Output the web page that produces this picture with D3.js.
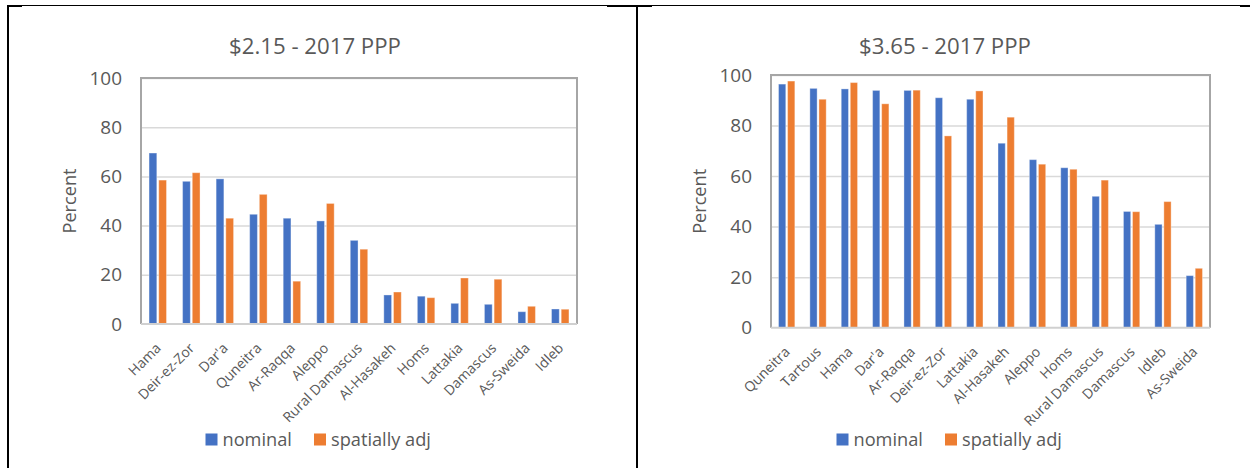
<!DOCTYPE html>
<html>
<head>
<meta charset="utf-8">
<script src="https://cdn.jsdelivr.net/npm/d3@7"></script>
<style>
  html, body { margin: 0; padding: 0; background: #fff; }
  svg { display: block; }
  text { font-family: "Open Sans", "Noto Sans", sans-serif; fill: #595959; }
</style>
</head>
<body>
<svg id="chart" width="1250" height="468"></svg>
<script>
// Poverty headcount by governorate, nominal vs spatially adjusted
const seriesNames = ["nominal", "spatially adj"];
const seriesColors = ["#4472C4", "#ED7D31"];
const yTicks = [0, 20, 40, 60, 80, 100];

// $2.15 line
const title215 = "$2.15 - 2017 PPP";
const govs215 = ["Hama", "Deir-ez-Zor", "Dar'a", "Quneitra", "Ar-Raqqa", "Aleppo",
  "Rural Damascus", "Al-Hasakeh", "Homs", "Lattakia", "Damascus", "As-Sweida", "Idleb"];
const nominal215 = [69.5, 58.0, 59.0, 44.6, 43.0, 41.9, 34.0, 11.8, 11.3, 8.4, 8.0, 5.0, 6.1];
const adjusted215 = [58.5, 61.5, 43.0, 52.7, 17.4, 49.0, 30.4, 13.0, 10.7, 18.7, 18.2, 7.2, 6.0];

// $3.65 line
const title365 = "$3.65 - 2017 PPP";
const govs365 = ["Quneitra", "Tartous", "Hama", "Dar'a", "Ar-Raqqa", "Deir-ez-Zor", "Lattakia",
  "Al-Hasakeh", "Aleppo", "Homs", "Rural Damascus", "Damascus", "Idleb", "As-Sweida"];
const nominal365 = [96.4, 94.7, 94.5, 93.9, 93.9, 91.0, 90.4, 73.0, 66.5, 63.3, 52.0, 46.0, 40.9, 20.6];
const adjusted365 = [97.6, 90.4, 97.0, 88.6, 94.0, 75.9, 93.7, 83.3, 64.7, 62.7, 58.4, 45.9, 49.9, 23.5];

const svg = d3.select("#chart");

// font size that makes a sample string span a given width
function fitFont(str, width) {
  const t = svg.append("text").style("font-size", "100px").text(str);
  const w = t.node().getComputedTextLength();
  t.remove();
  return 100 * width / w;
}
const fs = {
  title: fitFont("$2.15 - 2017 PPP", 172),
  tick: fitFont("100", 32.5),
  axisTitle: fitFont("Percent", 65),
  cat: fitFont("Rural Damascus", 105),
  legend: fitFont("spatially adj", 100)
};

// document table frame around the two charts
const frame = svg.append("g").attr("fill", "#000");
frame.append("rect").attr("x", 7).attr("y", 5).attr("width", 1243).attr("height", 1);
frame.append("rect").attr("x", 7).attr("y", 5).attr("width", 15).attr("height", 2);
frame.append("rect").attr("x", 607).attr("y", 5).attr("width", 45).attr("height", 2);
frame.append("rect").attr("x", 1240).attr("y", 5).attr("width", 10).attr("height", 2);
frame.append("rect").attr("x", 7).attr("y", 5).attr("width", 2).attr("height", 463);
frame.append("rect").attr("x", 636).attr("y", 5).attr("width", 2).attr("height", 463);

function drawChart(cfg) {
  const g = svg.append("g");
  const { left, right, top, bottom } = cfg.plot;
  const y = d3.scaleLinear().domain([0, 100]).range([bottom, top]);
  const x = d3.scaleBand().domain(cfg.categories).range([left, right]).padding(0);
  const groupWidth = x.bandwidth() * 0.52;
  const xs = d3.scaleBand().domain(seriesNames).range([0, groupWidth]).paddingInner(0.2);

  // title
  g.append("text")
    .attr("x", cfg.titleX).attr("y", cfg.titleY)
    .attr("text-anchor", "middle")
    .style("font-size", fs.title + "px")
    .text(cfg.title);

  // gridlines
  const grid = g.append("g")
    .attr("transform", `translate(${left},0)`)
    .call(d3.axisLeft(y).tickValues(yTicks.slice(1)).tickSize(-(right - left)).tickFormat(""));
  grid.select(".domain").remove();
  grid.selectAll("line").attr("stroke", "#d9d9d9").attr("stroke-width", 1.5);

  // y tick labels
  const yAxis = g.append("g")
    .attr("transform", `translate(${left},0)`)
    .call(d3.axisLeft(y).tickValues(yTicks).tickSize(0).tickPadding(left - cfg.tickRight));
  yAxis.select(".domain").remove();
  yAxis.selectAll("text")
    .attr("fill", "#595959")
    .style("font-family", "'Open Sans', sans-serif")
    .style("font-size", fs.tick + "px");

  // y axis title
  g.append("text")
    .attr("transform", `translate(${cfg.yTitleX},${(top + bottom) / 2}) rotate(-90)`)
    .attr("text-anchor", "middle")
    .style("font-size", fs.axisTitle + "px")
    .text("Percent");

  // bars
  const rows = cfg.categories.map((c, i) => ({ cat: c, vals: [cfg.nominal[i], cfg.adjusted[i]] }));
  const groups = g.append("g").selectAll("g").data(rows).join("g")
    .attr("transform", d => `translate(${x(d.cat) + (x.bandwidth() - groupWidth) / 2},0)`);
  groups.selectAll("rect")
    .data(d => d.vals.map((v, k) => ({ s: seriesNames[k], v, k })))
    .join("rect")
    .attr("x", d => xs(d.s))
    .attr("width", xs.bandwidth())
    .attr("y", d => y(d.v))
    .attr("height", d => y(0) - y(d.v))
    .attr("fill", d => seriesColors[d.k])
    .attr("stroke", "#fff")
    .attr("stroke-opacity", 0.35)
    .attr("stroke-width", 1);

  // plot frame: top, left, right in mid gray, baseline lighter
  g.append("path")
    .attr("d", `M${left},${bottom}V${top}H${right}V${bottom}`)
    .attr("fill", "none").attr("stroke", "#a6a6a6").attr("stroke-width", 2);
  g.append("line")
    .attr("x1", left).attr("x2", right).attr("y1", bottom).attr("y2", bottom)
    .attr("stroke", "#d0d0d0").attr("stroke-width", 2);

  // x category labels, slanted
  const xAxis = g.append("g")
    .attr("transform", `translate(0,${bottom})`)
    .call(d3.axisBottom(x).tickSize(0).tickPadding(0));
  xAxis.select(".domain").remove();
  xAxis.selectAll("text")
    .attr("fill", "#595959")
    .style("font-family", "'Open Sans', sans-serif")
    .style("font-size", fs.cat + "px")
    .attr("text-anchor", "end")
    .attr("dy", null)
    .attr("transform", "translate(4,25) rotate(-45)");

  // legend
  const lg = g.append("g").attr("transform", `translate(${cfg.legendX},${cfg.legendY})`);
  const offsets = [0, 108.5];
  seriesNames.forEach((s, k) => {
    lg.append("rect").attr("x", offsets[k]).attr("y", -12)
      .attr("width", 12).attr("height", 12).attr("fill", seriesColors[k]);
    lg.append("text").attr("x", offsets[k] + 17).attr("y", 0)
      .style("font-size", fs.legend + "px").text(s);
  });
}

drawChart({
  title: title215, categories: govs215, nominal: nominal215, adjusted: adjusted215,
  plot: { left: 141, right: 577, top: 78, bottom: 324 },
  titleX: 315, titleY: 54, tickRight: 122, yTitleX: 76,
  legendX: 205.5, legendY: 445.5
});

drawChart({
  title: title365, categories: govs365, nominal: nominal365, adjusted: adjusted365,
  plot: { left: 771, right: 1210, top: 75, bottom: 327.7 },
  titleX: 945, titleY: 54, tickRight: 752, yTitleX: 706,
  legendX: 836.5, legendY: 445.5
});
</script>
</body>
</html>
